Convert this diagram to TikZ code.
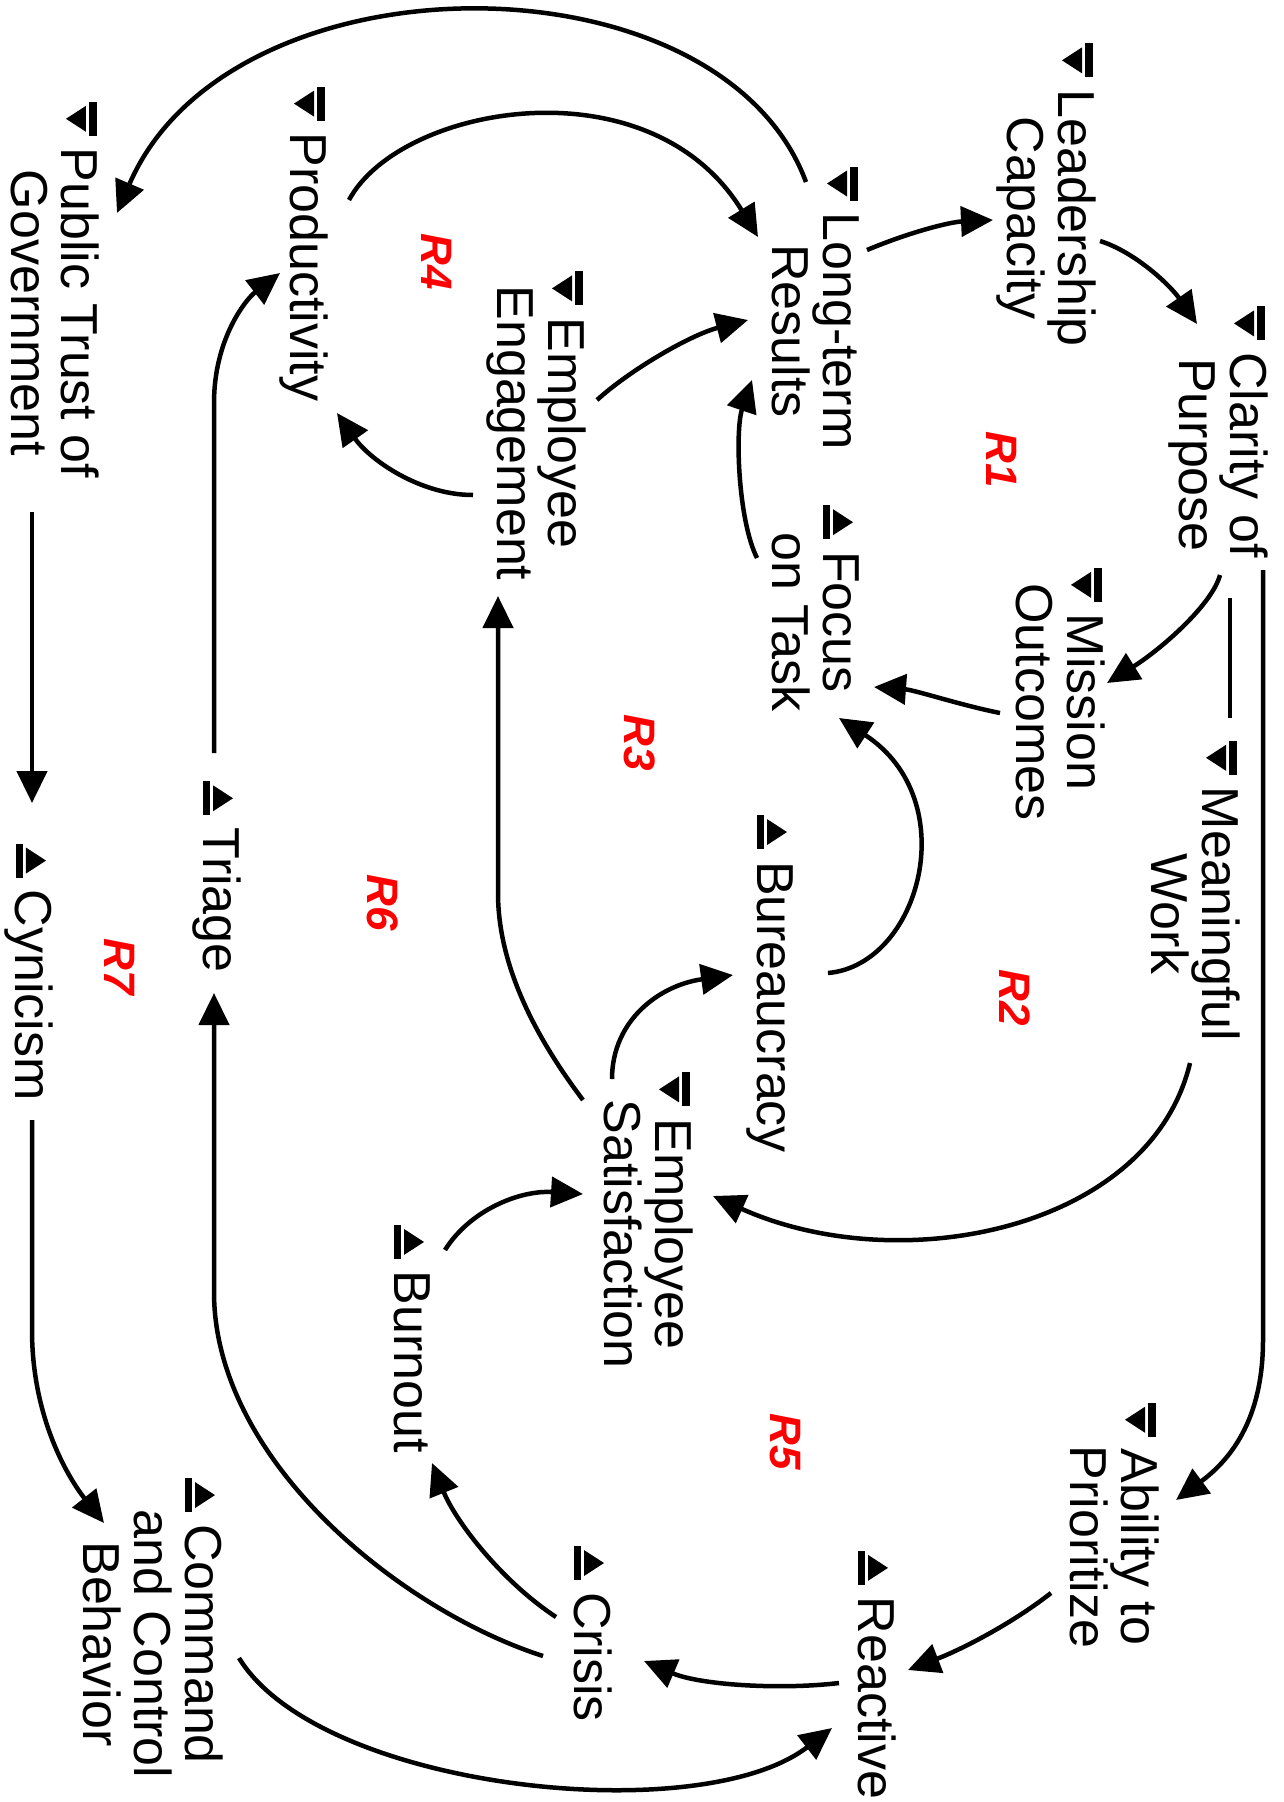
\documentclass[tikz,border=0pt]{standalone}
\usepackage{fontspec}
\setmainfont{Liberation Sans}
\usetikzlibrary{arrows.meta}
\newcommand\stt{\rule[-11pt]{0pt}{49pt}}
\newcommand\icdn{\llap{\tikz[reset cm,x=1pt,y=1pt,baseline=0pt]{\fill[black] (0,27) rectangle (34,35); \fill[black] (4,24) -- (30,24) -- (17,4) -- cycle;}\hspace{12pt}}}
\newcommand\icup{\llap{\tikz[reset cm,x=1pt,y=1pt,baseline=0pt]{\fill[black] (0,0) rectangle (34,7); \fill[black] (4,10) -- (30,10) -- (17,30) -- cycle;}\hspace{12pt}}}
\begin{document}
\begin{tikzpicture}[x=1pt,y=-1pt,
  cvar/.style={rotate=-90, align=center, inner sep=0pt, font=\fontsize{52}{51}\selectfont},
  looplbl/.style={rotate=-90, inner sep=0pt, text=red, font=\fontsize{44}{44}\selectfont\bfseries\itshape},
  lnk/.style={line width=4.5pt, -{Triangle[length=32pt,width=30pt]}},
  plainlnk/.style={line width=4.5pt}]
\useasboundingbox[fill=white] (0,0) rectangle (1283,1802);

% variables
\node[cvar] (lead)  at (1046,218)   {\icdn\stt Leadership\\\stt Capacity};
\node[cvar] (clar)  at (1218,455)   {\icdn\stt Clarity of\\\stt Purpose};
\node[cvar] (ltr)   at (811,331)    {\icdn\stt Long-term\\\stt Results};
\node[cvar] (focus) at (811,622)    {\icup\stt Focus\\\stt on Task};
\node[cvar] (miss)  at (1055,702)   {\icdn\stt Mission\\\stt Outcomes};
\node[cvar] (mean)  at (1190,914)   {\icdn\stt Meaningful\\\stt Work};
\node[cvar] (prod)  at (303.5,267)  {\icdn\stt Productivity};
\node[cvar] (pub)   at (50,313)     {\icdn\stt Public Trust of\\\stt Government};
\node[cvar] (eng)   at (536,433)    {\icdn\stt Employee\\\stt Engagement};
\node[cvar] (bur)   at (770.5,1007) {\icup\stt Bureaucracy};
\node[cvar] (sat)   at (643,1234)   {\icdn\stt Employee\\\stt Satisfaction};
\node[cvar] (burn)  at (407.5,1362) {\icup\stt Burnout};
\node[cvar] (tri)   at (216.5,900)  {\icup\stt Triage};
\node[cvar] (cyn)   at (29.5,995)   {\icup\stt Cynicism};
\node[cvar] (abil)  at (1109,1547)  {\icdn\stt Ability to\\\stt Prioritize};
\node[cvar] (reac)  at (871.5,1698) {\icup\stt Reactive};
\node[cvar] (cris)  at (587.5,1657) {\icup\stt Crisis};
\node[cvar] (cmd)   at (147.5,1644) {\icup\stt Command\\\stt and Control\\\stt Behavior};

% loop labels
\node[looplbl] (r1) at (1002,460) {R1};
\node[looplbl] (r2) at (1015,998) {R2};
\node[looplbl] (r3) at (640,743)  {R3};
\node[looplbl] (r4) at (437,262)  {R4};
\node[looplbl] (r5) at (785,1442) {R5};
\node[looplbl] (r6) at (383,903)  {R6};
\node[looplbl] (r7) at (120,967)  {R7};

% connectors
\draw[lnk] ([shift={(56,-81)}]ltr.center) .. controls (910,232) and (950,222) .. ([shift={(-53,2)}]lead.center);
\draw[lnk] ([shift={(54,23)}]lead.center) .. controls (1135,252) and (1170,285) .. ([shift={(-21,-131)}]clar.center);
\draw[lnk] ([shift={(2,120)}]clar.center) .. controls (1212,605) and (1160,650) .. ([shift={(52,-19)}]miss.center);
\draw[plainlnk] ([shift={(12,143)}]clar.center) -- ([shift={(40,-196)}]mean.center);
\draw[lnk] ([shift={(45,115)}]clar.center) -- (1263,1340) .. controls (1263,1420) and (1230,1460) .. ([shift={(67,-47)}]abil.center);
\draw[lnk] ([shift={(-55,11)}]miss.center) .. controls (960,705) and (915,690) .. ([shift={(63,65)}]focus.center);
\draw[lnk] ([shift={(0,149)}]mean.center) .. controls (1150,1230) and (900,1280) .. ([shift={(70,-38)}]sat.center);
\draw[lnk] ([shift={(-54,-64)}]focus.center) .. controls (738,520) and (735,430) .. ([shift={(-59,49)}]ltr.center);
\draw[lnk] ([shift={(61,-33)}]eng.center) .. controls (630,370) and (690,335) .. ([shift={(-63,-11)}]ltr.center);
\draw[lnk] ([shift={(-63,62)}]eng.center) .. controls (420,495) and (370,460) .. ([shift={(33.5,146)}]prod.center);
\draw[lnk] ([shift={(45.5,-67)}]prod.center) .. controls (400,105) and (650,60) .. ([shift={(-53,-94)}]ltr.center);
\draw[lnk] ([shift={(-5,-149)}]ltr.center) .. controls (720,-50) and (230,-50) .. ([shift={(67,-100)}]pub.center);
\draw[lnk] ([shift={(57.5,-34)}]bur.center) .. controls (920,965) and (965,800) .. ([shift={(28,96)}]focus.center);
\draw[lnk] ([shift={(-31,-155)}]sat.center) .. controls (612,1020) and (660,985) .. ([shift={(-37.5,-32)}]bur.center);
\draw[lnk] ([shift={(-60,-134)}]sat.center) .. controls (530,1030) and (498,960) .. (498,893) -- ([shift={(-38,163)}]eng.center);
\draw[lnk] ([shift={(37.5,-112)}]burn.center) .. controls (470,1210) and (520,1190) .. ([shift={(-60,-40)}]sat.center);
\draw[lnk] ([shift={(-58,46)}]abil.center) .. controls (1010,1625) and (960,1650) .. ([shift={(36.5,-28)}]reac.center);
\draw[lnk] ([shift={(-32.5,-15)}]reac.center) .. controls (780,1690) and (700,1685) .. ([shift={(56.5,4)}]cris.center);
\draw[lnk] ([shift={(-31.5,-40)}]cris.center) .. controls (500,1580) and (455,1520) .. ([shift={(24.5,101)}]burn.center);
\draw[lnk] ([shift={(-44.5,-1)}]cris.center) .. controls (400,1610) and (214,1460) .. (214,1292) -- ([shift={(-2.5,93)}]tri.center);
\draw[lnk] ([shift={(-2.5,-147)}]tri.center) -- (214,403) .. controls (214,340) and (245,300) .. ([shift={(-23.5,6)}]prod.center);
\draw[lnk] ([shift={(-18,199)}]pub.center) -- ([shift={(2.5,-192)}]cyn.center);
\draw[lnk] ([shift={(2.5,125)}]cyn.center) -- (32,1330) .. controls (32,1420) and (70,1480) .. ([shift={(-43.5,-121)}]cmd.center);
\draw[lnk] ([shift={(91.5,14)}]cmd.center) .. controls (320,1790) and (700,1830) .. ([shift={(-39.5,30)}]reac.center);
\end{tikzpicture}
\end{document}
